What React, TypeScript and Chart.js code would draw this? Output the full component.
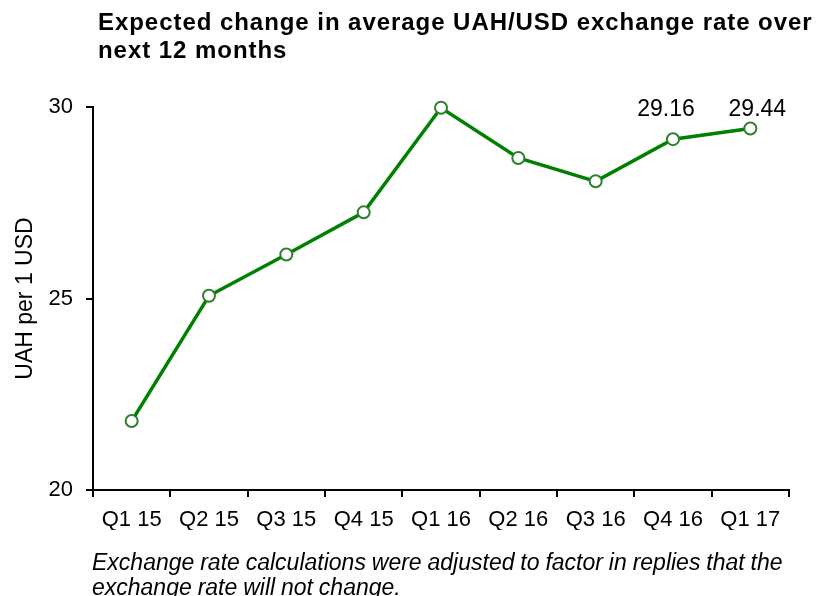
import React, { useEffect, useRef } from "react";
import { Chart, registerables } from "chart.js";

Chart.register(...registerables);

const titleLines = ["Expected change in average UAH/USD exchange rate over", "next 12 months"];
const captionLines = [
  "Exchange rate calculations were adjusted to factor in replies that the",
  "exchange rate will not change.",
];
const categories = ["Q1 15", "Q2 15", "Q3 15", "Q4 15", "Q1 16", "Q2 16", "Q3 16", "Q4 16", "Q1 17"];
const rateValues = [21.8, 25.07, 26.15, 27.25, 29.98, 28.67, 28.06, 29.16, 29.44];
const labelledIndexes = [7, 8];
const yAxisTitle = "UAH per 1 USD";
const yMin = 20;
const yMax = 30;
const yStep = 5;

const FONT = "'Liberation Sans', Arial, sans-serif";
const labelDx = [-7, 7];

export default function App() {
  const canvasRef = useRef<HTMLCanvasElement | null>(null);

  useEffect(() => {
    document.body.style.margin = "0";
    const canvas = canvasRef.current;
    if (!canvas) return;

    const dataLabelPlugin = {
      id: "dataLabels",
      afterDatasetsDraw(chart: any) {
        const ctx = chart.ctx;
        const meta = chart.getDatasetMeta(0);
        ctx.save();
        ctx.font = `23px ${FONT}`;
        ctx.fillStyle = "#000";
        ctx.textAlign = "center";
        ctx.textBaseline = "middle";
        labelledIndexes.forEach((idx, k) => {
          const pt = meta.data[idx];
          ctx.fillText(rateValues[idx].toFixed(2), pt.x + labelDx[k], chart.chartArea.top + 3);
        });
        ctx.restore();
      },
    };

    const chart = new Chart(canvas, {
      type: "line",
      data: {
        labels: categories,
        datasets: [
          {
            data: rateValues,
            borderColor: "#008000",
            borderWidth: 3.5,
            pointRadius: 6,
            pointBackgroundColor: "#ffffff",
            pointBorderColor: "#2f7f2f",
            pointBorderWidth: 2,
            tension: 0,
            clip: false as any,
          },
        ],
      },
      options: {
        animation: false,
        responsive: false,
        maintainAspectRatio: false,
        layout: { padding: { top: 107, right: 31, bottom: 66, left: 0 } },
        plugins: {
          legend: { display: false },
          tooltip: { enabled: false },
          title: { display: false },
        },
        scales: {
          x: {
            type: "category",
            offset: true,
            afterFit: (scale: any) => {
              scale.height = 40;
            },
            grid: {
              offset: true,
              drawOnChartArea: false,
              drawTicks: true,
              tickLength: 7,
              color: "#000",
              lineWidth: 2,
            },
            border: { display: true, color: "#000", width: 2 },
            ticks: {
              color: "#000",
              font: { family: FONT, size: 22 },
              padding: 10,
              maxRotation: 0,
              autoSkip: false,
            },
          },
          y: {
            min: yMin,
            max: yMax,
            afterFit: (scale: any) => {
              scale.width = 93;
            },
            grid: {
              drawOnChartArea: false,
              drawTicks: true,
              tickLength: 7,
              color: "#000",
              lineWidth: 2,
            },
            border: { display: true, color: "#000", width: 2 },
            ticks: {
              stepSize: yStep,
              color: "#000",
              font: { family: FONT, size: 22 },
              padding: 13,
            },
            title: {
              display: true,
              text: yAxisTitle,
              color: "#000",
              font: { family: FONT, size: 23 },
              padding: { top: 12, bottom: 0 },
            },
          },
        },
      },
      plugins: [dataLabelPlugin],
    });

    return () => chart.destroy();
  }, []);

  return (
    <div style={{ position: "relative", width: 820, height: 596, background: "#fff", overflow: "hidden" }}>
      <canvas ref={canvasRef} width={820} height={596} style={{ position: "absolute", left: 0, top: 0 }} />
      <div
        style={{
          position: "absolute",
          left: 98,
          top: 8,
          fontFamily: FONT,
          fontWeight: "bold",
          fontSize: 24,
          letterSpacing: 0.95,
          lineHeight: "28px",
          color: "#000",
          whiteSpace: "nowrap",
        }}
      >
        {titleLines.map((l, i) => (
          <div key={i}>{l}</div>
        ))}
      </div>
      <div
        style={{
          position: "absolute",
          left: 92,
          top: 550,
          fontFamily: FONT,
          fontStyle: "italic",
          fontSize: 23,
          lineHeight: "25px",
          color: "#000",
          whiteSpace: "nowrap",
          wordSpacing: -0.5,
        }}
      >
        {captionLines.map((l, i) => (
          <div key={i}>{l}</div>
        ))}
      </div>
    </div>
  );
}
